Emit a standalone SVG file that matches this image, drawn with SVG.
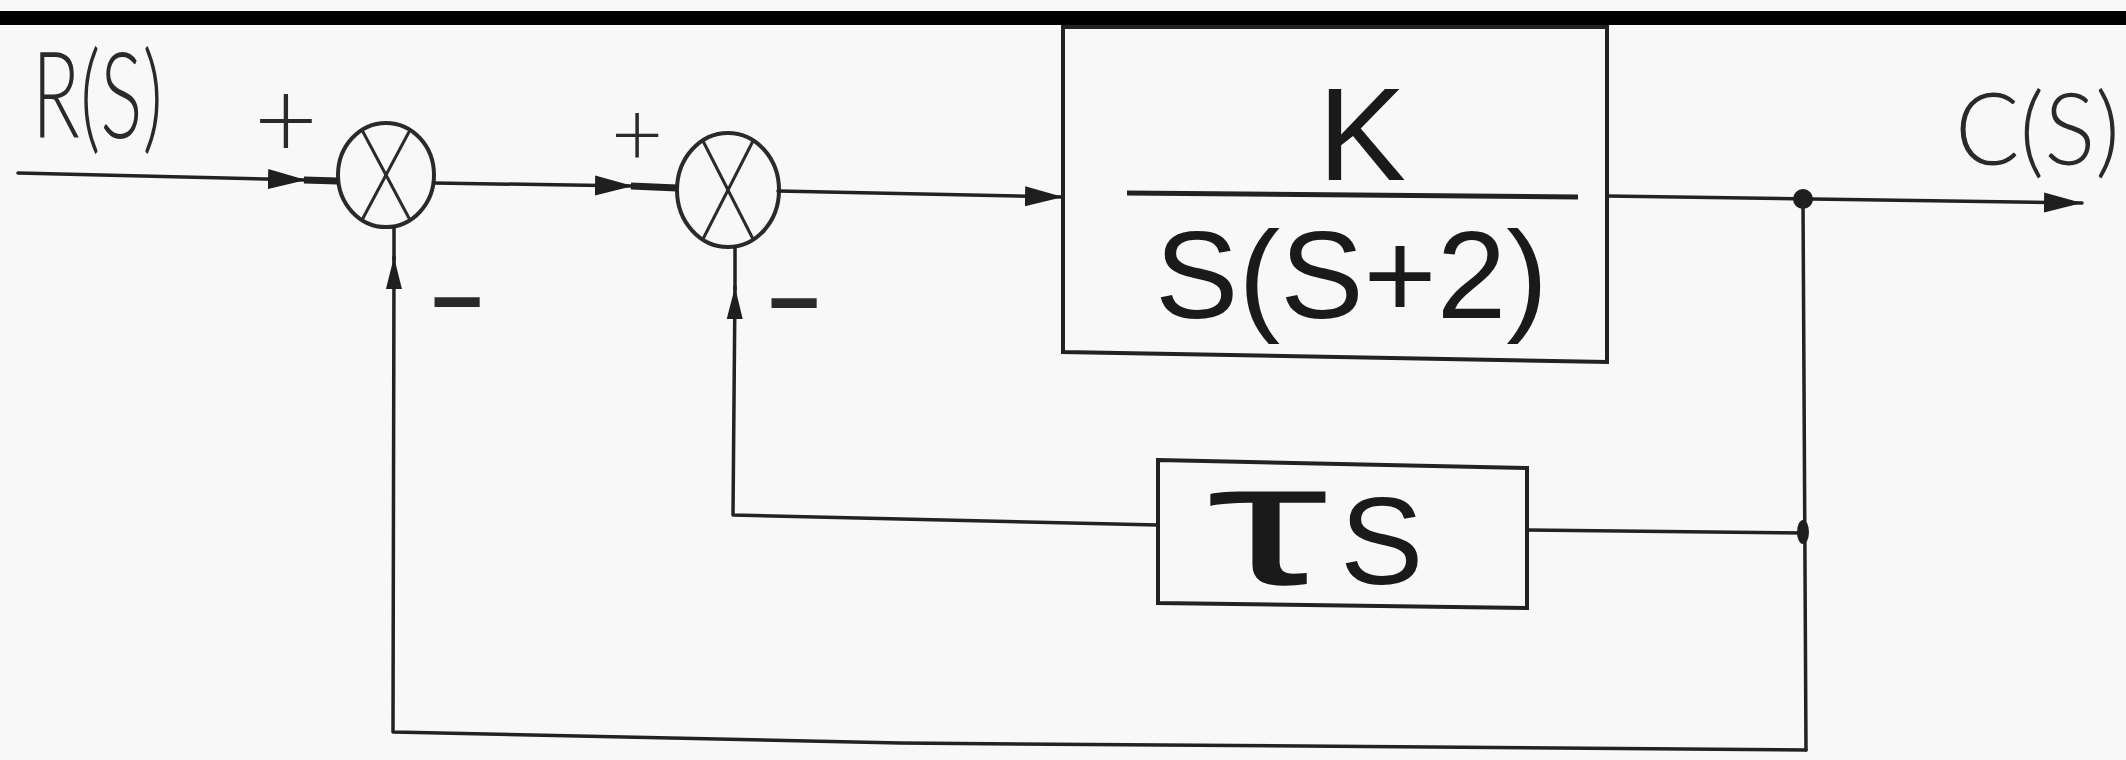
<svg xmlns="http://www.w3.org/2000/svg" width="2126" height="760" viewBox="0 0 2126 760">
  <defs>
    <marker id="arr" viewBox="0 0 38 22" refX="38" refY="11" markerWidth="38" markerHeight="22" markerUnits="userSpaceOnUse" orient="auto">
      <path d="M0,1 L38,11 L0,21 Z" fill="#1f1f1f"/>
    </marker>
    <marker id="arrS" viewBox="0 0 32 18" refX="32" refY="9" markerWidth="32" markerHeight="18" markerUnits="userSpaceOnUse" orient="auto">
      <path d="M0,1 L32,9 L0,17 Z" fill="#1f1f1f"/>
    </marker>
    <style>
      .ln { fill: none; stroke: #222; stroke-width: 3.5; stroke-linecap: round; stroke-linejoin: round; }
      .thick { fill: none; stroke: #222; stroke-width: 7; stroke-linecap: butt; }
      .box { fill: none; stroke: #222; stroke-width: 4; }
      .sum { fill: none; stroke: #2a2a2a; stroke-width: 4; }
      .xl { stroke: #2a2a2a; stroke-width: 3; }
      .hand { font-family: Lato, "Liberation Sans", sans-serif; font-weight: 300; fill: #2a2a2a; }
      .bold { font-family: "Liberation Sans", Arial, sans-serif; font-weight: 400; fill: #1a1a1a; }
      .sign { font-family: Lato, "Liberation Sans", sans-serif; font-weight: 300; fill: #2a2a2a; text-anchor: middle; }
      .minus { font-family: "Liberation Sans", Arial, sans-serif; font-weight: 700; fill: #2a2a2a; text-anchor: middle; }
    </style>
  </defs>

  <rect x="0" y="0" width="2126" height="760" fill="#f8f8f8"/>
  <rect x="0" y="11" width="2126" height="14" fill="#000"/>

  <g id="labels">
    <text class="hand" x="32" y="138" font-size="120" textLength="131" lengthAdjust="spacingAndGlyphs">R(S)</text>
    <text class="hand" x="1955" y="165" font-size="100" textLength="165" lengthAdjust="spacingAndGlyphs">C(S)</text>
  </g>

  <g id="sum1">
    <ellipse class="sum" cx="386" cy="175" rx="48" ry="52"/>
    <line class="xl" x1="362" y1="130" x2="410" y2="220"/>
    <line class="xl" x1="410" y1="130" x2="362" y2="220"/>
    <text class="sign" x="286" y="158" font-size="110">+</text>
    <text class="minus" x="457" y="332" font-size="90">−</text>
  </g>

  <g id="sum2">
    <ellipse class="sum" cx="728" cy="190" rx="51" ry="57"/>
    <line class="xl" x1="703" y1="141" x2="753" y2="239"/>
    <line class="xl" x1="753" y1="141" x2="703" y2="239"/>
    <text class="sign" x="637" y="166" font-size="90">+</text>
    <text class="minus" x="794" y="333" font-size="90">−</text>
  </g>

  <g id="plant">
    <path class="box" d="M1063,27 L1607,27 L1607,362 L1063,352 Z"/>
    <text class="bold" x="1362" y="180" font-size="132" text-anchor="middle">K</text>
    <line x1="1127" y1="193" x2="1578" y2="197" stroke="#222" stroke-width="5"/>
    <text class="bold" x="1155" y="318" font-size="125" textLength="393" lengthAdjust="spacingAndGlyphs">S(S+2)</text>
  </g>

  <g id="tau">
    <path class="box" d="M1158,460 L1527,468 L1527,608 L1158,603 Z"/>
    <text class="bold" y="584" font-size="125"><tspan x="1206" font-size="175" textLength="122" lengthAdjust="spacingAndGlyphs">τ</tspan><tspan x="1340">S</tspan></text>
  </g>

  <g id="connectors">
    <!-- input -->
    <path class="ln" d="M18,173 L306,180" marker-end="url(#arr)"/>
    <line class="thick" x1="304" y1="180" x2="338" y2="181"/>
    <!-- sum1 to sum2 -->
    <path class="ln" d="M434,183 L633,186" marker-end="url(#arr)"/>
    <line class="thick" x1="631" y1="186" x2="677" y2="188"/>
    <!-- sum2 to plant -->
    <path class="ln" d="M778,191 L1063,197" marker-end="url(#arr)"/>
    <!-- output -->
    <path class="ln" d="M1607,196 L2082,203" marker-end="url(#arr)"/>
    <circle cx="1803" cy="199" r="10" fill="#1f1f1f"/>
    <!-- vertical return line -->
    <path class="ln" d="M1803,199 L1806,750"/>
    <!-- to tau block -->
    <path class="ln" d="M1806,533 L1527,530"/>
    <ellipse cx="1803" cy="532" rx="6" ry="12" fill="#1f1f1f"/>
    <!-- tau block to sum2 -->
    <path class="ln" d="M1158,525 L733,515 L735,287" marker-end="url(#arrS)"/>
    <line class="ln" x1="735" y1="290" x2="735" y2="247"/>
    <!-- outer loop to sum1 -->
    <path class="ln" d="M1806,750 L900,743 L393,732 L394,257" marker-end="url(#arrS)"/>
    <line class="ln" x1="394" y1="260" x2="394" y2="227"/>
  </g>
</svg>
